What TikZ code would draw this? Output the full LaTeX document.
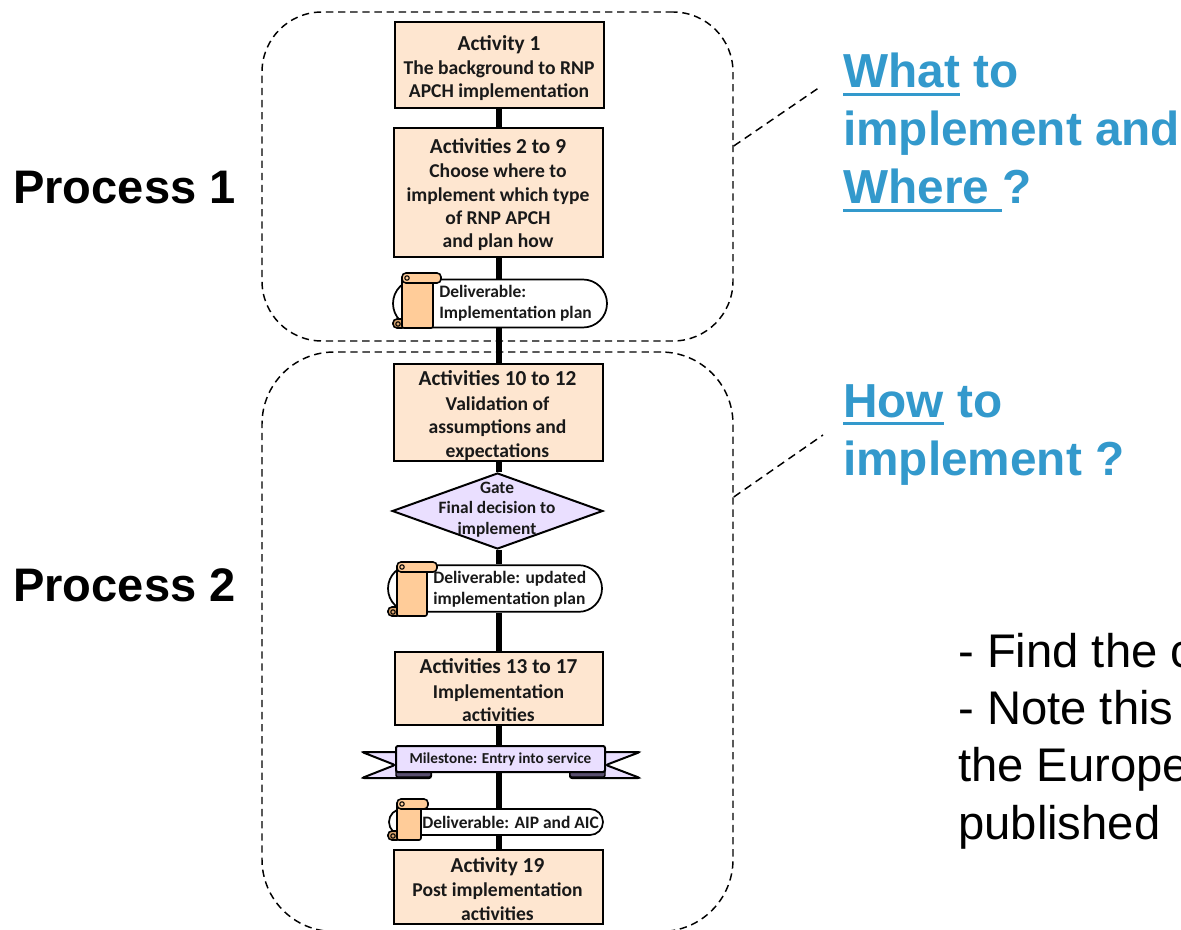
\documentclass[tikz,border=0pt]{standalone}
\usepackage{fontspec}
\setmainfont{Liberation Sans}
\newfontfamily\boxfont{Carlito}[BoldFont=Carlito Bold]
\usetikzlibrary{shapes.geometric,shapes.misc,backgrounds}
\definecolor{actfill}{HTML}{FEE6D0}
\definecolor{gatefill}{HTML}{EADFFF}
\definecolor{scrollfill}{HTML}{FFCC99}
\definecolor{curlfill}{HTML}{D9A46E}
\definecolor{foldfill}{HTML}{5A5070}
\definecolor{askblue}{HTML}{3399CC}
\newcommand\askul[1]{\setbox0=\hbox{#1}\rlap{\rule[-6.2pt]{\wd0}{2.4pt}}\box0{}}
\newcommand\acthead[1]{{\fontsize{16}{17.5}\selectfont #1}}
% body left, body right, roll right, top, bottom (reference pixels)
\newcommand\scrollshape[5]{%
  \draw[fill=curlfill,draw=black,line width=1.2pt,rounded corners=3pt] (#1-9,#5-9) rectangle (#1+4,#5);
  \draw[scrollpart,rounded corners=1.5pt] (#1,#4+4) rectangle (#2,#5);
  \draw[scrollpart,rounded corners=3pt] (#1,#4) rectangle (#3,#4+10);
  \draw[line width=.8pt] (#1+5,#4+5) circle[radius=2.2];
  \draw[line width=.8pt] (#1-4,#5-4) circle[radius=2.2];
}
\tikzset{
  actbox/.style={draw=black,fill=actfill,line width=1.5pt,rectangle,minimum width=156.75pt,inner sep=0pt},
  acttext/.style={inner sep=0pt,align=center,font=\boxfont\bfseries\fontsize{14.7}{17.5}\selectfont,text=black!90},
  gatebox/.style={draw=black,fill=gatefill,line width=1.5pt,diamond,aspect=2.77,inner sep=0pt,
    minimum width=158pt,minimum height=57pt},
  pillbox/.style={draw=black,fill=white,line width=1.3pt,rounded rectangle,inner sep=0pt,minimum width=160.5pt},
  scrollpart/.style={draw=black,fill=scrollfill,line width=1.2pt},
  smalltext/.style={inner sep=0pt,anchor=west,align=left,font=\boxfont\bfseries\fontsize{13.1}{15.6}\selectfont,text=black!90},
  gatetext/.style={inner sep=0pt,align=center,font=\boxfont\bfseries\fontsize{13}{15.6}\selectfont,text=black!90},
  banner/.style={draw=black,fill=gatefill,line width=1.5pt,rounded corners=1.5pt},
  milestone/.style={banner,rectangle,inner sep=0pt,minimum width=156.75pt,minimum height=19.5pt,
    font=\boxfont\bfseries\fontsize{11.4}{14}\selectfont,text=black!90},
  fold/.style={draw=black,fill=foldfill,line width=1pt,rounded corners=1pt},
  groupbox/.style={draw=black,rectangle,line width=1.1pt,dash pattern=on 5.5pt off 3.6pt,minimum width=353.25pt,inner sep=0pt},
  leader/.style={draw=black,line width=1.1pt,dash pattern=on 6pt off 4pt},
  spineline/.style={draw=black,line width=4pt},
  proctext/.style={inner sep=0pt,anchor=base west,font=\bfseries\fontsize{35.3}{43}\selectfont,text=black},
  asktext/.style={inner sep=0pt,anchor=base west,font=\bfseries\fontsize{35.8}{43.5}\selectfont,text=askblue,align=left},
  notetext/.style={inner sep=0pt,anchor=base west,font=\fontsize{35.4}{43}\selectfont,text=black,align=left},
}
\begin{document}
\begin{tikzpicture}[x=0.75pt,y=-0.75pt]
\useasboundingbox (0,0) rectangle (1181,930);
\clip (0,0) rectangle (1181,930);

\coordinate (spine) at (499,0);

\node[groupbox,rounded corners=45pt,minimum height=246.75pt] (g1) at (497.5,176.5) {};
\node[groupbox,rounded corners=54pt,minimum height=434.6pt] (g2) at (497.5,641.75) {};

\node[actbox,minimum height=64.5pt] (a1) at (499.5,65) {};
\node[acttext] (a1t) at (499,68)
  {\acthead{Activity 1}\\[0.5pt]The background to RNP\\APCH implementation};
\node[actbox,minimum height=96.75pt] (a2) at (498.5,192.5) {};
\node[acttext] (a2t) at (498,194.5)
  {\acthead{Activities 2 to 9}\\[1pt]Choose where to\\implement which type\\of RNP APCH\\and plan how};

\node[pillbox,minimum height=36pt] (d1) at (500,303.5) {};
\scrollshape{402}{433}{441}{273}{328}
\node[smalltext] (d1t) at (439,303) {Deliverable:\\Implementation plan};

\node[actbox,minimum height=72.75pt] (a3) at (498.5,412.5) {};
\node[acttext] (a3t) at (497.5,415.5)
  {\acthead{Activities 10 to 12}\\[1pt]Validation of\\assumptions and\\expectations};
\node[gatebox] (gate) at (497.5,511) {};
\node[gatetext] (gatet) at (497,509.5) {Gate\\Final decision to\\implement};

\node[pillbox,minimum height=35pt] (d2) at (495,588.5) {};
\scrollshape{397}{427}{437}{562}{616}
\node[smalltext] (d2t) at (433,589) {Deliverable: updated\\implementation plan};

\node[actbox,minimum width=156pt,minimum height=54.75pt] (a4) at (499,688.5) {};
\node[acttext] (a4t) at (498.5,690.5)
  {\acthead{Activities 13 to 17}\\[1pt]Implementation\\activities};

\draw[banner] (396,752) -- (362,752) -- (395,765) -- (362,778) -- (431,778) -- (431,770) -- cycle;
\draw[banner] (605,752) -- (640,752) -- (606,765) -- (640,778) -- (570,778) -- (570,770) -- cycle;
\draw[fold] (396,770) rectangle (431,777);
\draw[fold] (570,770) rectangle (605,777);
\node[milestone] (ms) at (500.5,759) {Milestone: Entry into service};

\node[pillbox,minimum height=19.5pt] (d3) at (496,822) {};
\scrollshape{397}{421}{428}{799}{840}
\node[smalltext] (d3t) at (422,822) {Deliverable: AIP and AIC};

\node[actbox,minimum height=55.5pt] (a5) at (498.5,887) {};
\node[acttext] (a5t) at (497.5,889)
  {\acthead{Activity 19}\\[0.5pt]Post implementation\\activities};

\begin{scope}[on background layer]
  \foreach \p/\q in {a1/a2,a2/d1,d1/a3,a3/gate,gate/d2,d2/a4,a4/ms,ms/d3,d3/a5}
    \draw[spineline] (spine |- \p.south) -- (spine |- \q.north);
\end{scope}

\node[proctext] (p1) at (13,204) {Process 1};
\node[proctext] (p2) at (13,601) {Process 2};

\node[asktext] (ask1a) at (843,88) {\askul{What} to};
\node[asktext] (ask1b) at (843,146) {implement and};
\node[asktext] (ask1c) at (843,204) {\askul{Where\ }?};
\node[asktext] (ask2a) at (843,417) {\askul{How} to};
\node[asktext] (ask2b) at (843,475) {implement ?};

\coordinate (l1a) at (g1.east |- 0,146);
\coordinate (l1b) at (820,87);
\coordinate (l2a) at (g2.east |- 0,497);
\coordinate (l2b) at (823,435);
\draw[leader] (l1a) -- (l1b);
\draw[leader] (l2a) -- (l2b);

\node[notetext] (n1) at (958,667) {- Find the c};
\node[notetext] (n2) at (958,724) {- Note this};
\node[notetext] (n3) at (958,781) {the Europe};
\node[notetext] (n4) at (958,839) {published};
\end{tikzpicture}
\end{document}
